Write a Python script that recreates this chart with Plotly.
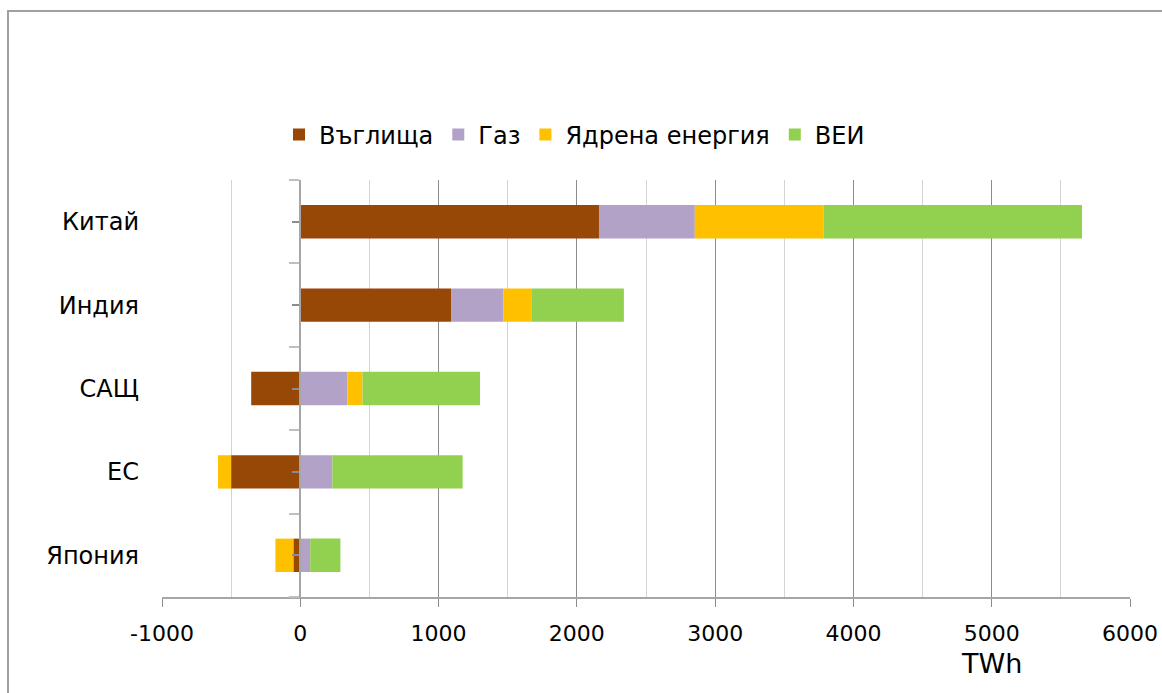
import plotly.graph_objects as go

# Change in electricity generation by source, TWh
countries = ["Китай", "Индия", "САЩ", "ЕС", "Япония"]
coal = [2160, 1090, -355, -500, -50]
gas = [693, 380, 340, 232, 72]
nuclear = [930, 205, 110, -95, -130]
renewables = [1870, 665, 850, 942, 218]

series_names = ["Въглища", "Газ", "Ядрена енергия", "ВЕИ"]
series_values = [coal, gas, nuclear, renewables]
series_colors = ["#974806", "#B3A2C7", "#FFC000", "#92D050"]

x_ticks = [-1000, 0, 1000, 2000, 3000, 4000, 5000, 6000]

FONT = "DejaVu Sans"

fig = go.Figure()
for name, vals, color in zip(series_names, series_values, series_colors):
    fig.add_trace(go.Bar(
        y=countries, x=vals, name=name, orientation="h",
        marker=dict(color=color, line=dict(width=0)),
    ))

n = len(countries)

# invisible helper so the category axis through x = 0 gets drawn
fig.add_trace(go.Scatter(
    x=[0], y=[0], yaxis="y2", mode="markers", marker=dict(opacity=0),
    showlegend=False, hoverinfo="skip",
))

fig.update_layout(
    barmode="relative",
    bargap=0.6,
    width=1162, height=693,
    margin=dict(l=162, r=32, t=180, b=96),
    paper_bgcolor="white", plot_bgcolor="white",
    font=dict(family=FONT, color="#000000"),
    showlegend=True,
    legend=dict(
        orientation="h", x=(279 - 162) / 968, xanchor="left", y=1.108, yanchor="middle",
        font=dict(size=24, family=FONT), itemwidth=30, traceorder="normal",
        bgcolor="rgba(0,0,0,0)",
    ),
    xaxis=dict(
        range=[x_ticks[0], x_ticks[-1]], automargin=False,
        tickmode="array", tickvals=x_ticks, ticktext=[str(v) for v in x_ticks],
        tickfont=dict(size=22, family=FONT), ticklabelstandoff=8,
        showgrid=True, gridcolor="#8c8c8c", gridwidth=1,
        minor=dict(dtick=500, tick0=0, showgrid=True, gridcolor="#d4d4d4", gridwidth=1),
        zeroline=False,
        showline=True, linecolor="#a6a6a6", linewidth=2,
        ticks="outside", ticklen=8, tickcolor="#8c8c8c", tickwidth=1,
        fixedrange=True,
    ),
    yaxis=dict(
        type="category", categoryorder="array", categoryarray=countries,
        range=[n - 0.5, -0.5], automargin=False,
        tickfont=dict(size=24, family=FONT),
        ticklabelstandoff=22,
        showgrid=False, showline=False, ticks="",
        zeroline=False,
    ),
    # category axis drawn through x = 0, with ticks between categories
    yaxis2=dict(
        overlaying="y", anchor="free", automargin=False,
        position=(0 - x_ticks[0]) / (x_ticks[-1] - x_ticks[0]),
        range=[n - 0.5, -0.5],
        tickmode="array", tickvals=[i - 0.5 for i in range(n + 1)],
        showticklabels=False, showgrid=False, zeroline=False,
        showline=True, linecolor="#a6a6a6", linewidth=2,
        ticks="outside", ticklen=10, tickwidth=2, tickcolor="#bfbfbf",
        minor=dict(tickmode="array", tickvals=list(range(n)), ticks="outside",
                   ticklen=7, tickwidth=2, tickcolor="#8c8c8c"),
        fixedrange=True,
    ),
)

# axis unit label under the 5000 tick
fig.add_annotation(
    x=5000, y=0, xref="x", yref="paper", yshift=-66,
    text="TWh", showarrow=False, font=dict(size=27, family=FONT),
    xanchor="center", yanchor="middle",
)

# outer chart frame
fig.add_shape(
    type="rect", xref="paper", yref="paper",
    x0=(8 - 162) / 968, x1=1.2, y0=-0.4, y1=1 + (180 - 11) / 417,
    line=dict(color="#a0a0a0", width=2), fillcolor="rgba(0,0,0,0)",
    layer="below",
)

fig.write_html("out.html")
